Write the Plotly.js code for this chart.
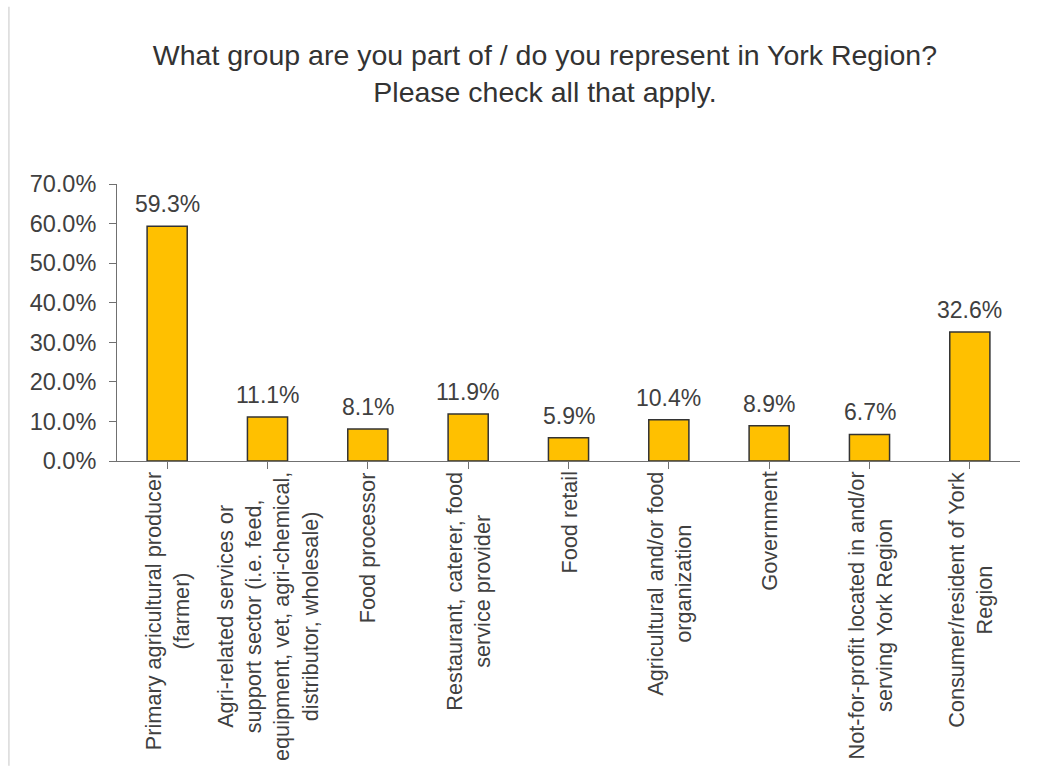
<!DOCTYPE html>
<html>
<head>
<meta charset="utf-8">
<script src="https://cdn.plot.ly/plotly-3.0.1.min.js"></script>
<style>
  html, body { margin: 0; padding: 0; background: #ffffff; }
  #chart { width: 1038px; height: 772px; }
</style>
</head>
<body>
<div id="chart"></div>
<script>
const categories = [
  "Primary agricultural producer<br>(farmer)",
  "Agri-related services or<br>support sector (i.e. feed,<br>equipment, vet, agri-chemical,<br>distributor, wholesale)",
  "Food processor",
  "Restaurant, caterer, food<br>service provider",
  "Food retail",
  "Agricultural and/or food<br>organization",
  "Government",
  "Not-for-profit located in and/or<br>serving York Region",
  "Consumer/resident of York<br>Region"
];
const values = [59.3, 11.1, 8.1, 11.9, 5.9, 10.4, 8.9, 6.7, 32.6];
const yTickValues = [0, 10, 20, 30, 40, 50, 60, 70];

const textColor = '#404040';
const fontFamily = '"Liberation Sans", Arial, sans-serif';

const trace = {
  type: 'bar',
  x: categories.map((c, i) => i),
  y: values,
  width: 0.4,
  marker: { color: '#FFC000', line: { color: '#333333', width: 1.5 } },
  cliponaxis: false,
  hoverinfo: 'none'
};

const valueAnnotations = values.map((v, i) => ({
  x: i, xref: 'x',
  y: v, yref: 'y',
  yanchor: 'bottom', xanchor: 'center',
  yshift: 7,
  text: v.toFixed(1) + '%',
  showarrow: false,
  font: { family: fontFamily, size: 23, color: textColor }
}));

const labelAnnotations = categories.map((c, i) => ({
  x: i, xref: 'x',
  y: 0, yref: 'paper',
  yanchor: 'top', xanchor: 'center',
  yshift: -9,
  text: c,
  textangle: -90,
  align: 'center',
  showarrow: false,
  font: { family: fontFamily, size: 21.7, color: textColor }
}));

const layout = {
  width: 1038, height: 772,
  paper_bgcolor: '#ffffff', plot_bgcolor: '#ffffff',
  margin: { l: 117, r: 18, t: 184, b: 311 },
  showlegend: false,
  title: {
    text: 'What group are you part of / do you represent in York Region?<br>Please check all that apply.',
    font: { family: fontFamily, size: 28.5, color: '#333333' },
    x: 0.525, xref: 'container', xanchor: 'center',
    y: 0.916, yref: 'container', yanchor: 'top'
  },
  xaxis: {
    range: [-0.5, categories.length - 0.5],
    tickmode: 'array',
    tickvals: categories.map((c, i) => i),
    ticktext: categories.map(() => ''),
    tickson: 'boundaries',
    ticks: 'outside', ticklen: 7, tickcolor: '#707070', tickwidth: 1,
    showline: true, linecolor: '#707070', linewidth: 1,
    showgrid: false, zeroline: false,
    fixedrange: true
  },
  yaxis: {
    range: [0, 70],
    tickmode: 'array',
    tickvals: yTickValues,
    ticktext: yTickValues.map(v => v.toFixed(1) + '%'),
    ticks: 'outside', ticklen: 7, tickcolor: '#707070', tickwidth: 1,
    showline: true, linecolor: '#707070', linewidth: 1,
    showgrid: false, zeroline: false,
    tickfont: { family: fontFamily, size: 23.5, color: textColor },
    ticklabelstandoff: 8,
    fixedrange: true
  },
  annotations: valueAnnotations.concat(labelAnnotations),
  shapes: [{
    type: 'line', xref: 'paper', yref: 'paper',
    x0: -0.1197, x1: -0.1197, y0: -1.1, y1: 1.64,
    line: { color: '#d9d9d9', width: 1.5 }
  }]
};

Plotly.newPlot('chart', [trace], layout, { displayModeBar: false, staticPlot: true });
</script>
</body>
</html>
